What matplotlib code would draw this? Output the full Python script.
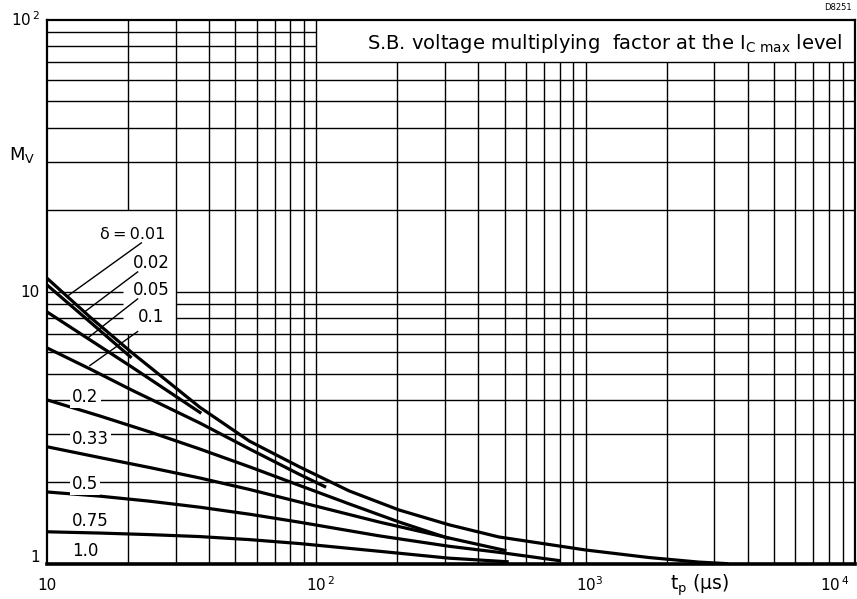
import numpy as np
import matplotlib
matplotlib.use("Agg")
import matplotlib.pyplot as plt
from matplotlib.ticker import NullLocator

# duty cycles and curves (t_p in us, M_V)
t_001 = [10, 14.43, 20.6, 28.5, 36.9, 56.5, 86.5, 132.6, 203, 311, 476, 1000, 1711, 2621, 3385]
m_001 = [11.2, 8.07, 5.98, 4.62, 3.76, 2.82, 2.27, 1.85, 1.575, 1.39, 1.254, 1.123, 1.054, 1.014, 1.0]
t_002 = [10, 14.43, 20.6]
m_002 = [10.58, 7.74, 5.71]
t_005 = [10, 20.6, 37.4]
m_005 = [8.42, 5.29, 3.57]
t_01 = [10, 14.43, 20.6, 36.9, 56.5, 86.5, 108.7]
m_01 = [6.21, 5.2, 4.35, 3.29, 2.64, 2.13, 1.91]
t_02 = [10, 15.72, 24.07, 36.9, 56.5, 86.5, 132.6, 203, 311]
m_02 = [4.0, 3.49, 3.05, 2.64, 2.27, 1.94, 1.658, 1.423, 1.238]
t_033 = [10, 15.72, 24.07, 36.9, 56.5, 86.5, 171, 311, 508]
m_033 = [2.69, 2.455, 2.256, 2.066, 1.874, 1.686, 1.423, 1.243, 1.116]
t_05 = [10, 15.72, 24.07, 36.9, 56.5, 86.5, 171, 311, 476, 806]
m_05 = [1.835, 1.771, 1.697, 1.613, 1.52, 1.421, 1.266, 1.159, 1.101, 1.025]
t_075 = [10, 15.72, 24.07, 36.9, 56.5, 86.5, 171, 311, 518]
m_075 = [1.31, 1.296, 1.279, 1.258, 1.226, 1.186, 1.111, 1.048, 1.016]

curves = [(t_001, m_001), (t_002, m_002), (t_005, m_005), (t_01, m_01),
          (t_02, m_02), (t_033, m_033), (t_05, m_05), (t_075, m_075)]

xtick_labels = ['10', r'$\mathregular{10^{\,2}}$', r'$\mathregular{10^{3}}$', r'$\mathregular{10^{\,4}}$']
ytick_labels = ['1', '10', r'$\mathregular{10^{\,2}}$']

plt.rcParams['font.family'] = ['DejaVu Sans']

W, H = 857, 599
def fpos(x, y):
    return x / W, 1 - y / H

fig = plt.figure(figsize=(W/100, H/100), dpi=100)
ax = fig.add_axes([47/W, 1-563.7/H, (855-47)/W, (563.7-19.5)/H])
ax.set_xscale('log')
ax.set_yscale('log')
ax.set_xlim(10, 1e4)
ax.set_ylim(1, 100)

### grid drawn by hand, it has blank boxes for the texts
xgrid = [k*10**d for d in (1, 2, 3) for k in range(1, 10)][1:]
for x in xgrid:
    if x > 100:
        ax.vlines(x, 1, 70, color='k', lw=1.0)
    elif x == 20:
        ax.vlines(x, 1, 7, color='k', lw=1.0)
        ax.vlines(x, 20, 100, color='k', lw=1.0)
    else:
        ax.vlines(x, 1, 100, color='k', lw=1.0)
ygrid = [k*10**d for d in (0, 1) for k in range(1, 10)][1:]
for y in ygrid:
    if y in (80, 90):
        ax.hlines(y, 10, 100, color='k', lw=1.0)
    elif y in (8, 9, 10):
        ax.hlines(y, 10, 19.1, color='k', lw=1.0)
        ax.hlines(y, 30, 1e4, color='k', lw=1.0)
    else:
        ax.hlines(y, 10, 1e4, color='k', lw=1.0)

for t, m in curves:
    ax.plot(t, m, color='k', lw=2.3, solid_capstyle='butt', solid_joinstyle='round', zorder=3)

for s in ax.spines.values():
    s.set_linewidth(1.6)
ax.spines['bottom'].set_linewidth(2.6)

ax.xaxis.set_minor_locator(NullLocator())
ax.yaxis.set_minor_locator(NullLocator())
ax.set_xticks([])
ax.set_yticks([])

# tick labels placed like in the drawing
for xp, lab in zip([47, 320, 590, 835], xtick_labels):
    fig.text(*fpos(xp, 585), lab, fontsize=11, ha='center', va='center')
for yp, lab in zip([557, 292, 20], ytick_labels):
    fig.text(*fpos(40, yp), lab, fontsize=11, ha='right', va='center')

# delta labels with leader lines
ax.text(27.6, 16.2, "δ\u2009=\u20090.01", fontsize=11.5, ha='right', va='center')
ax.text(28.5, 12.75, "0.02", fontsize=12, ha='right', va='center')
ax.text(28.5, 10.1, "0.05", fontsize=12, ha='right', va='center')
ax.text(21.7, 8.07, "0.1", fontsize=12, ha='left', va='center')
ax.plot([22.4, 11.83], [15.1, 9.58], color='k', lw=1.0)
ax.plot([21.7, 13.83], [11.81, 8.44], color='k', lw=1.0)
ax.plot([21.7, 14.19], [9.40, 6.76], color='k', lw=1.0)
ax.plot([21.7, 14.43], [7.13, 5.35], color='k', lw=1.0)

box = dict(facecolor='white', edgecolor='none', pad=1.5)
ax.text(12.4, 4.1, "0.2", fontsize=12, va='center', bbox=box, zorder=4)
ax.text(12.4, 2.87, "0.33", fontsize=12, va='center', bbox=box, zorder=4)
ax.text(12.4, 1.97, "0.5", fontsize=12, va='center', bbox=box, zorder=4)
ax.text(12.4, 1.435, "0.75", fontsize=12, va='center')
ax.text(12.4, 1.109, "1.0", fontsize=12, va='center')

ax.text(0.985, 0.955, r"S.B. voltage multiplying  factor at the $\mathregular{I_{C\ max}}$ level",
        transform=ax.transAxes, fontsize=14, ha='right', va='center')
fig.text(*fpos(700, 585), r"$\mathregular{t_p}$ (μs)", fontsize=13.5, ha='center', va='center')
fig.text(*fpos(22, 155), r"$\mathregular{M_V}$", fontsize=13, ha='center', va='center')
fig.text(*fpos(838, 8), "D8251", fontsize=6, ha='center', va='center')

fig.savefig("out.png", dpi=100)
